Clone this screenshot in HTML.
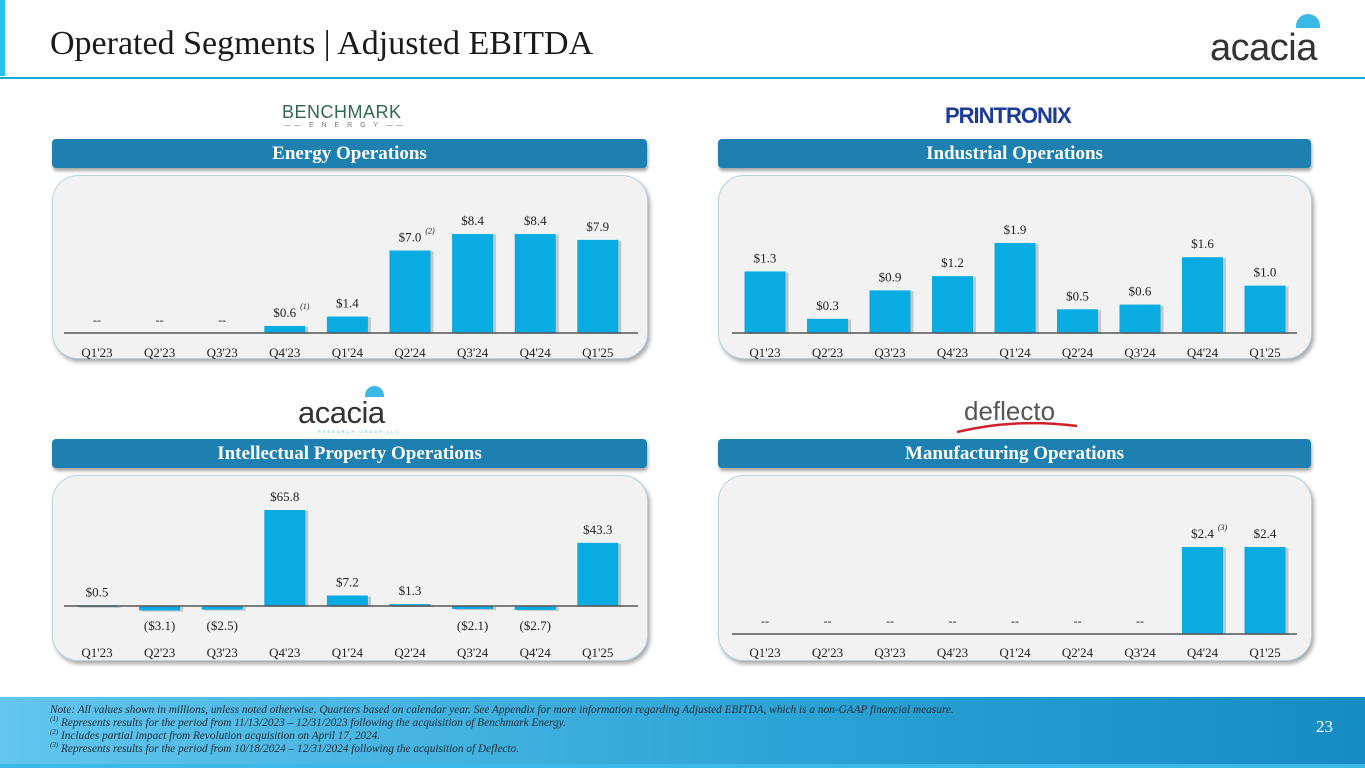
<!DOCTYPE html>
<html><head><meta charset="utf-8">
<style>
body{margin:0;width:1365px;height:768px;overflow:hidden;background:#fff;font-family:"Liberation Serif",serif;position:relative}
.abs{position:absolute}
.hdr{position:absolute;height:29px;background:#1d80b0;border-radius:4px;color:#fff;font-weight:bold;font-size:19px;text-align:center;line-height:29px;box-shadow:1px 3px 3px rgba(0,0,0,.35)}
.panel{position:absolute;background:#f2f2f2;border:1px solid #b9d3df;border-radius:26px;box-shadow:2px 3px 4px rgba(0,0,0,.35)}
.foot{position:absolute;left:0;top:697px;width:1365px;height:67px;background:linear-gradient(90deg,#62c6ee,#2aa2d5 60%,#168cc2)}
.foot p{margin:0;font-style:italic;font-size:11.3px;color:#1f2a33;line-height:13px;white-space:nowrap}
sup{font-size:7px;line-height:0}
</style></head><body>
<div class="abs" style="left:0;top:0;width:5px;height:76px;background:#2cc2ee"></div>
<div class="abs" style="left:50px;top:25px;font-size:34px;color:#1a1a1a">Operated Segments | Adjusted EBITDA</div>
<div class="abs" style="left:0;top:77px;width:1365px;height:2px;background:#1ba6d8"></div>
<div class="abs" style="left:1210px;top:27px;font-family:'Liberation Sans',sans-serif;font-size:38px;color:#333;letter-spacing:-0.5px">acacia</div>
<div class="abs" style="left:1296px;top:14px;width:24px;height:14px;background:#3ab8e6;border-radius:14px 14px 0 0"></div>

<div class="abs" style="left:282px;top:102px;font-family:'Liberation Sans',sans-serif;font-size:18px;color:#2f6a4f;letter-spacing:0.5px">BENCHMARK</div>
<div class="abs" style="left:284px;top:122px;font-family:'Liberation Sans',sans-serif;font-size:7px;color:#777;letter-spacing:3px">—— E N E R G Y ——</div>
<div class="abs" style="left:945px;top:103px;font-family:'Liberation Sans',sans-serif;font-weight:bold;font-size:22px;color:#1d3c9a;letter-spacing:-1px">PRINTRONIX</div>
<div class="abs" style="left:298px;top:395px;font-family:'Liberation Sans',sans-serif;font-size:31px;color:#333;letter-spacing:-0.5px">acacia</div>
<div class="abs" style="left:365px;top:386px;width:19px;height:11px;background:#3ab8e6;border-radius:11px 11px 0 0"></div>
<div class="abs" style="left:318px;top:429px;font-family:'Liberation Sans',sans-serif;font-size:4px;color:#3ab8e6;letter-spacing:2px">RESEARCH GROUP LLC</div>
<div class="abs" style="left:964px;top:396px;font-family:'Liberation Sans',sans-serif;font-size:26px;color:#555">deflecto</div>
<svg class="abs" style="left:955px;top:420px" width="130" height="14"><path d="M2 12 Q60 -2 122 6" stroke="#d0202a" stroke-width="2.5" fill="none"/></svg>

<div class="hdr" style="left:52px;top:139px;width:595px">Energy Operations</div>
<div class="hdr" style="left:718px;top:139px;width:593px">Industrial Operations</div>
<div class="hdr" style="left:52px;top:439px;width:595px">Intellectual Property Operations</div>
<div class="hdr" style="left:718px;top:439px;width:593px">Manufacturing Operations</div>
<div class="panel" style="left:52px;top:175px;width:594px;height:182px"></div>
<div class="panel" style="left:718px;top:175px;width:592px;height:182px"></div>
<div class="panel" style="left:52px;top:475px;width:594px;height:184px"></div>
<div class="panel" style="left:718px;top:475px;width:592px;height:184px"></div>

<svg id="charts" class="abs" style="left:0;top:0" width="1365" height="768"></svg>

<div class="foot">
<div class="abs" style="left:50px;top:7px">
<p>Note: All values shown in millions, unless noted otherwise. Quarters based on calendar year. See Appendix for more information regarding Adjusted EBITDA, which is a non-GAAP financial measure.</p>
<p><sup>(1)</sup> Represents results for the period from 11/13/2023 – 12/31/2023 following the acquisition of Benchmark Energy.</p>
<p><sup>(2)</sup> Includes partial impact from Revolution acquisition on April 17, 2024.</p>
<p><sup>(3)</sup> Represents results for the period from 10/18/2024 – 12/31/2024 following the acquisition of Deflecto.</p>
</div>
<div class="abs" style="left:1316px;top:20px;font-size:17px;color:#fff">23</div>
</div>
<div class="abs" style="left:0;top:764px;width:1365px;height:4px;background:#3cb9e8"></div>

<script>
const categories=["Q1'23","Q2'23","Q3'23","Q4'23","Q1'24","Q2'24","Q3'24","Q4'24","Q1'25"];
const energyValues=[null,null,null,0.6,1.4,7.0,8.4,8.4,7.9];
const energyNotes=["","","","(1)","","(2)","","",""];
const industrialValues=[1.3,0.3,0.9,1.2,1.9,0.5,0.6,1.6,1.0];
const industrialNotes=["","","","","","","","",""];
const ipValues=[0.5,-3.1,-2.5,65.8,7.2,1.3,-2.1,-2.7,43.3];
const ipNotes=["","","","","","","","",""];
const mfgValues=[null,null,null,null,null,null,null,2.4,2.4];
const mfgNotes=["","","","","","","","(3)",""];

const NS="http://www.w3.org/2000/svg";
const svg=document.getElementById('charts');
function mk(tag,attrs,text){const e=document.createElementNS(NS,tag);for(const k in attrs)e.setAttribute(k,attrs[k]);if(text!==undefined)e.textContent=text;svg.appendChild(e);return e;}
function fmt(v){return v<0?'($'+Math.abs(v).toFixed(1)+')':'$'+v.toFixed(1);}
function drawChart(name,vals,notes,x0,step,axL,axR,base,maxV,maxPx,labelY){
  const y=v=>base-v/maxV*maxPx;
  const xc=i=>x0+i*step;
  const bw=41;
  vals.forEach((v,i)=>{
    const cx=xc(i);
    if(v===null){
      const t=mk('text',{x:cx,y:base-9,'text-anchor':'middle','font-size':12,fill:'#222'},'--');
      
      
    }else{
      const top=Math.min(y(v),base),h=Math.max(Math.abs(y(v)-base),1.5);
      const sh=mk('rect',{x:cx-bw/2+3,y:top+1,width:bw,height:h,fill:'rgba(0,0,0,0.18)'});
      
      
      const r=mk('rect',{x:cx-bw/2,y:top,width:bw,height:h,fill:'#08ace3'});
      
      
      const ly=v>=0?y(v)-9:base+24;
      const t=mk('text',{x:cx,y:ly,'text-anchor':'middle','font-size':13,fill:'#222'},fmt(v));
      
      
      if(notes[i]){
        const n=mk('text',{x:cx+20,y:ly-8,'text-anchor':'middle','font-size':8,'font-style':'italic',fill:'#222'},notes[i]);
        
        
      }
    }
    const c=mk('text',{x:cx,y:labelY,'text-anchor':'middle','font-size':13,fill:'#222'},categories[i]);
    
    
  });
  const ax=mk('line',{x1:axL,x2:axR,y1:base,y2:base,stroke:'#555','stroke-width':1.5});
  
  
}
drawChart('energy',energyValues,energyNotes,97,62.6,64,638,333,8.4,99,357);
drawChart('industrial',industrialValues,industrialNotes,765,62.5,732,1297,333,1.9,90,357);
drawChart('ip',ipValues,ipNotes,97,62.6,64,638,606,65.8,96,657);
drawChart('manufacturing',mfgValues,mfgNotes,765,62.5,732,1297,634,2.4,87,657);
</script>
</body></html>
